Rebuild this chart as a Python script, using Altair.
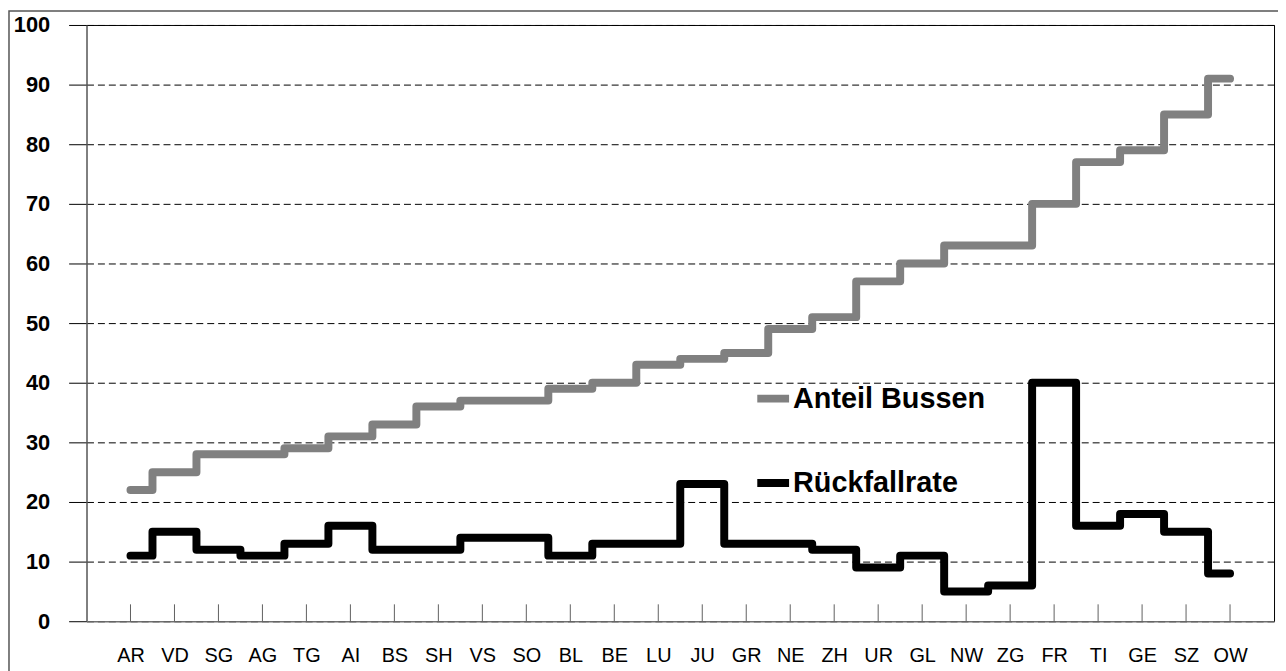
import altair as alt
import pandas as pd

codes = ["AR", "VD", "SG", "AG", "TG", "AI", "BS", "SH", "VS", "SO", "BL", "BE", "LU",
         "JU", "GR", "NE", "ZH", "UR", "GL", "NW", "ZG", "FR", "TI", "GE", "SZ", "OW"]
anteil_bussen = [22, 25, 28, 28, 29, 31, 33, 36, 37, 37, 39, 40, 43,
                 44, 45, 49, 51, 57, 60, 63, 63, 70, 77, 79, 85, 91]
rueckfallrate = [11, 15, 12, 11, 13, 16, 12, 12, 14, 14, 11, 13, 13,
                 23, 13, 13, 12, 9, 11, 5, 6, 40, 16, 18, 15, 8]
series_names = ["Anteil Bussen", "Rückfallrate"]
series_colors = ["#808080", "#000000"]
y_ticks = list(range(0, 101, 10))

rows = []
for name, vals in zip(series_names, [anteil_bussen, rueckfallrate]):
    for c, v in zip(codes, vals):
        rows.append({"Kanton": c, "Serie": name, "Wert": v})
df = pd.DataFrame(rows)
df_codes = pd.DataFrame({"Kanton": codes})

FONT = "Liberation Sans"

x_enc = alt.X(
    "Kanton:N",
    sort=codes,
    scale=alt.Scale(type="point", padding=1),
    axis=alt.Axis(
        title=None, ticks=False, tickSize=0, grid=False,
        labelFont=FONT, labelFontSize=20, labelColor="#000000",
        labelPadding=35, labelAngle=0, labelAlign="center",
        domainColor="#808080", domainWidth=1,
    ),
)

lines = alt.Chart(df).mark_line(
    interpolate="step", strokeWidth=8, strokeCap="round", strokeJoin="round"
).encode(
    x=x_enc,
    y=alt.Y(
        "Wert:Q",
        scale=alt.Scale(domain=[0, 100], nice=False, zero=True),
        axis=alt.Axis(
            title=None, values=y_ticks,
            labelFont=FONT, labelFontSize=22, labelFontWeight="bold",
            labelColor="#000000", labelPadding=19,
            tickSize=18, tickColor="#000000", tickWidth=1,
            domainColor="#808080", domainWidth=1,
            grid=True, gridColor="#000000", gridDash=[7, 4], gridWidth=1,
        ),
    ),
    color=alt.Color(
        "Serie:N",
        scale=alt.Scale(domain=series_names, range=series_colors),
        legend=alt.Legend(
            title=None, orient="none", legendX=671, legendY=356,
            symbolType="stroke", symbolSize=1024, symbolStrokeWidth=8,
            labelFont=FONT, labelFontSize=29, labelFontWeight="bold",
            labelColor="#000000", labelOffset=0, rowPadding=49, padding=0,
            labelLimit=400,
        ),
    ),
    detail="Serie:N",
)

ticks = alt.Chart(df_codes).mark_rule(color="#606060", strokeWidth=1).encode(
    x=alt.X("Kanton:N", sort=codes, scale=alt.Scale(type="point", padding=1)),
    y=alt.value(583),
    y2=alt.value(600),
)

frame = alt.Chart(pd.DataFrame({"a": [0]})).mark_rect(
    fill=None, stroke="#555555", strokeWidth=1.5
).encode(
    x=alt.value(-78), x2=alt.value(1205),
    y=alt.value(-14), y2=alt.value(680),
)

chart = alt.layer(frame, ticks, lines).properties(
    width=1195,
    height=600,
    autosize=alt.AutoSizeParams(type="none"),
    padding={"left": 79, "top": 15, "right": 4, "bottom": 48},
    background="white",
).configure_view(stroke="#000000", strokeWidth=1)

chart.save("out.html", embed_options={"renderer": "svg", "actions": False})
